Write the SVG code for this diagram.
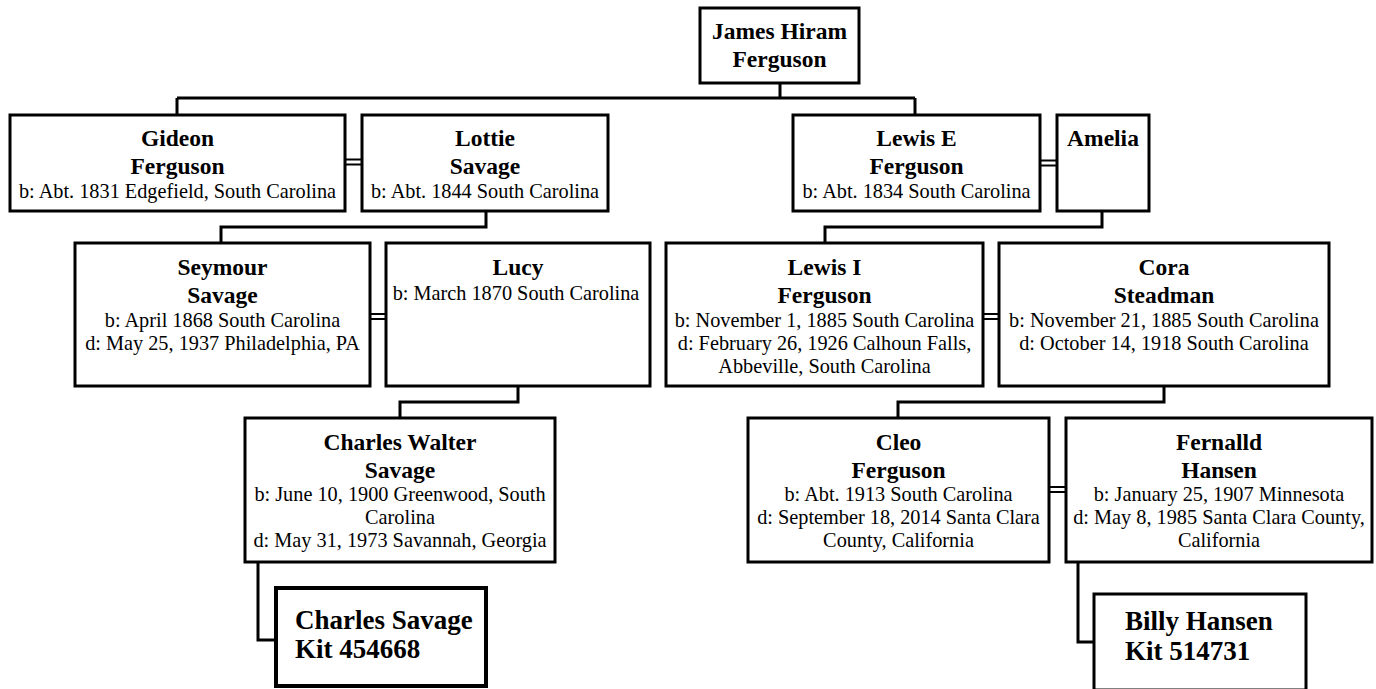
<svg xmlns="http://www.w3.org/2000/svg" width="1376" height="689" viewBox="0 0 1376 689">
<style>
.bg{fill:#fff}
.box{fill:#fff;stroke:#000;stroke-width:3}
.kit{fill:#fff;stroke:#000;stroke-width:4}
.kit2{fill:#fff;stroke:#000;stroke-width:3}
.ln{fill:none;stroke:#000;stroke-width:3}
.dl{fill:none;stroke:#000;stroke-width:2}
.n{font-family:"Liberation Serif","Times New Roman",serif;font-weight:bold;font-size:23.5px;fill:#000;text-anchor:middle}
.d{font-family:"Liberation Serif","Times New Roman",serif;font-size:20.3px;fill:#000;text-anchor:middle}
.k{font-family:"Liberation Serif","Times New Roman",serif;font-weight:bold;font-size:27px;fill:#000}
</style>
<rect class="bg" x="0" y="0" width="1376" height="689"/>
<g id="connectors">
<path class="ln" d="M780 83 V98 M177 98 H915 M177 98 V115 M915 98 V115"/>
<path class="ln" d="M486 211 V227 H221 V243"/>
<path class="ln" d="M1102 211 V227 H825 V243"/>
<path class="ln" d="M518 386 V402 H400 V418"/>
<path class="ln" d="M1164 386 V402 H898 V418"/>
<path class="ln" d="M258 562 V640 H276"/>
<path class="ln" d="M1078 562 V642 H1094"/>
<path class="dl" d="M345 159.5 H362 M345 164.5 H362"/>
<path class="dl" d="M1040 160.5 H1057 M1040 165.5 H1057"/>
<path class="dl" d="M370 314 H386 M370 319 H386"/>
<path class="dl" d="M983 314 H999 M983 319 H999"/>
<path class="dl" d="M1049 487 H1066 M1049 492 H1066"/>
</g>
<g id="james">
<rect class="box" x="700" y="8" width="159" height="75"/>
<text class="n" x="779.5" y="39">James Hiram</text>
<text class="n" x="779.5" y="67">Ferguson</text>
</g>
<g id="gideon">
<rect class="box" x="10" y="115" width="335" height="96"/>
<text class="n" x="177.5" y="146">Gideon</text>
<text class="n" x="177.5" y="174">Ferguson</text>
<text class="d" x="177.5" y="198">b: Abt. 1831 Edgefield, South Carolina</text>
</g>
<g id="lottie">
<rect class="box" x="362" y="115" width="246" height="96"/>
<text class="n" x="485" y="146">Lottie</text>
<text class="n" x="485" y="174">Savage</text>
<text class="d" x="485" y="198">b: Abt. 1844 South Carolina</text>
</g>
<g id="lewis-e">
<rect class="box" x="793" y="115" width="247" height="96"/>
<text class="n" x="916.5" y="146">Lewis E</text>
<text class="n" x="916.5" y="174">Ferguson</text>
<text class="d" x="916.5" y="198">b: Abt. 1834 South Carolina</text>
</g>
<g id="amelia">
<rect class="box" x="1057" y="115" width="92" height="96"/>
<text class="n" x="1103" y="146">Amelia</text>
</g>
<g id="seymour">
<rect class="box" x="75" y="243" width="295" height="143"/>
<text class="n" x="222.5" y="275">Seymour</text>
<text class="n" x="222.5" y="303">Savage</text>
<text class="d" x="222.5" y="327">b: April 1868 South Carolina</text>
<text class="d" x="222.5" y="350">d: May 25, 1937 Philadelphia, PA</text>
</g>
<g id="lucy">
<rect class="box" x="386" y="243" width="264" height="143"/>
<text class="n" x="518" y="275">Lucy</text>
<text class="d" x="516" y="300">b: March 1870 South Carolina</text>
</g>
<g id="lewis-i">
<rect class="box" x="666" y="243" width="317" height="143"/>
<text class="n" x="824.5" y="275">Lewis I</text>
<text class="n" x="824.5" y="303">Ferguson</text>
<text class="d" x="824.5" y="327">b: November 1, 1885 South Carolina</text>
<text class="d" x="824.5" y="350">d: February 26, 1926 Calhoun Falls,</text>
<text class="d" x="824.5" y="373">Abbeville, South Carolina</text>
</g>
<g id="cora">
<rect class="box" x="999" y="243" width="330" height="143"/>
<text class="n" x="1164" y="275">Cora</text>
<text class="n" x="1164" y="303">Steadman</text>
<text class="d" x="1164" y="327">b: November 21, 1885 South Carolina</text>
<text class="d" x="1164" y="350">d: October 14, 1918 South Carolina</text>
</g>
<g id="charles-walter">
<rect class="box" x="245" y="418" width="310" height="144"/>
<text class="n" x="400" y="450">Charles Walter</text>
<text class="n" x="400" y="478">Savage</text>
<text class="d" x="400" y="501">b: June 10, 1900 Greenwood, South</text>
<text class="d" x="400" y="524">Carolina</text>
<text class="d" x="400" y="547">d: May 31, 1973 Savannah, Georgia</text>
</g>
<g id="cleo">
<rect class="box" x="748" y="418" width="301" height="144"/>
<text class="n" x="898.5" y="450">Cleo</text>
<text class="n" x="898.5" y="478">Ferguson</text>
<text class="d" x="898.5" y="501">b: Abt. 1913 South Carolina</text>
<text class="d" x="898.5" y="524">d: September 18, 2014 Santa Clara</text>
<text class="d" x="898.5" y="547">County, California</text>
</g>
<g id="fernalld">
<rect class="box" x="1066" y="418" width="306" height="144"/>
<text class="n" x="1219" y="450">Fernalld</text>
<text class="n" x="1219" y="478">Hansen</text>
<text class="d" x="1219" y="501">b: January 25, 1907 Minnesota</text>
<text class="d" x="1219" y="524">d: May 8, 1985 Santa Clara County,</text>
<text class="d" x="1219" y="547">California</text>
</g>
<g id="charles-savage">
<rect class="kit" x="276" y="588" width="210" height="98"/>
<text class="k" x="295" y="629">Charles Savage</text>
<text class="k" x="295" y="658">Kit 454668</text>
</g>
<g id="billy-hansen">
<rect class="kit2" x="1094" y="594" width="212" height="96"/>
<text class="k" x="1125" y="630">Billy Hansen</text>
<text class="k" x="1125" y="660">Kit 514731</text>
</g>
</svg>
